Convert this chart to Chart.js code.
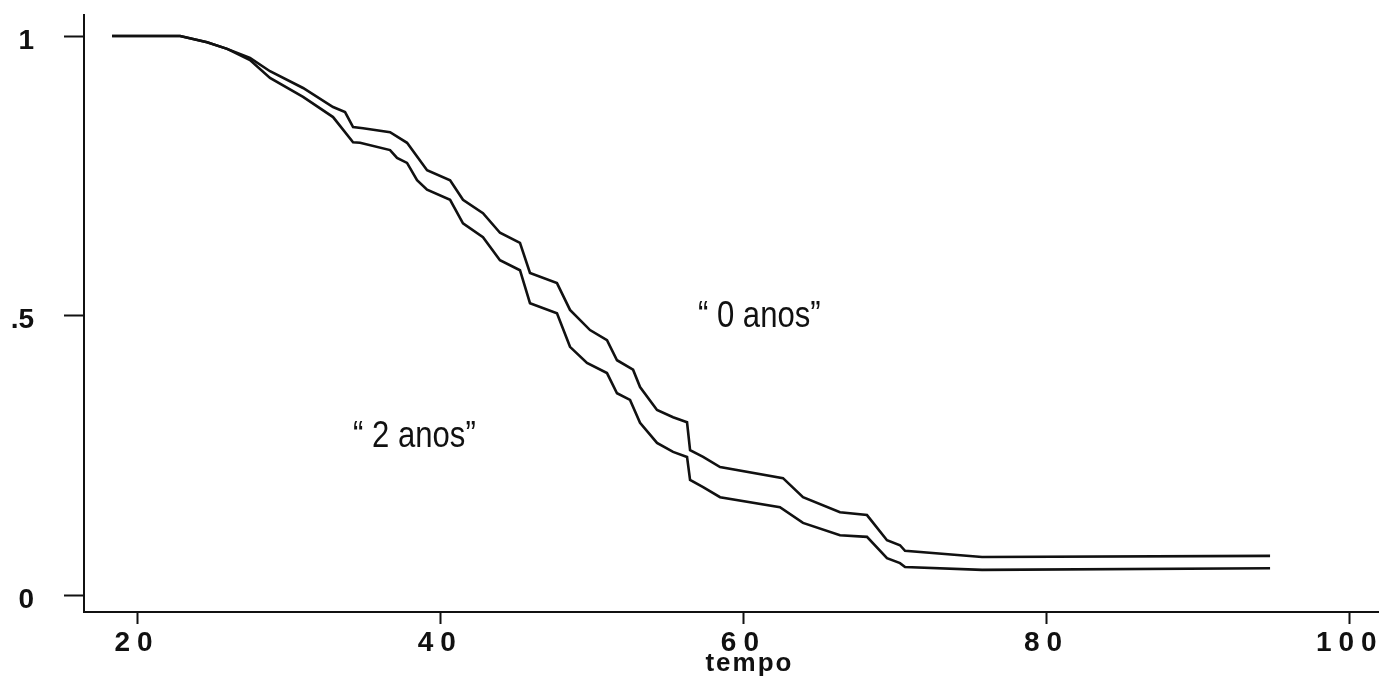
<!DOCTYPE html>
<html>
<head>
<meta charset="utf-8">
<script src="https://cdn.jsdelivr.net/npm/chart.js@4"></script>
<style>
  html, body { margin: 0; padding: 0; background: #fff; }
  canvas { display: block; }
</style>
</head>
<body>
<canvas id="myChart" width="1384" height="681"></canvas>
<script>
// survival curve "0 anos"
const tempo0 = [18.35, 22.84, 24.62, 25.94, 27.45, 28.77, 30.95, 32.93, 33.72, 34.25, 34.91, 36.69, 37.81, 39.13, 40.65, 41.50, 42.82, 43.94, 45.26, 45.92, 47.70, 48.56, 49.88, 51.00, 51.66, 52.72, 53.18, 54.30, 55.36, 56.28, 56.48, 57.34, 58.46, 62.61, 63.93, 66.37, 68.15, 69.47, 70.33, 70.66, 75.74, 94.74];
const surv0 = [1.0, 1.0, 0.989, 0.977, 0.961, 0.937, 0.907, 0.873, 0.864, 0.837, 0.835, 0.828, 0.809, 0.760, 0.742, 0.707, 0.683, 0.648, 0.630, 0.576, 0.558, 0.510, 0.474, 0.456, 0.420, 0.403, 0.372, 0.331, 0.318, 0.309, 0.259, 0.247, 0.229, 0.209, 0.175, 0.148, 0.143, 0.098, 0.089, 0.079, 0.068, 0.070];

// survival curve "2 anos"
const tempo2 = [18.35, 22.84, 24.62, 25.94, 27.45, 28.77, 30.95, 32.93, 34.25, 34.71, 36.69, 37.15, 37.81, 38.47, 39.13, 40.65, 41.50, 42.82, 43.94, 45.26, 45.92, 47.70, 48.56, 49.68, 51.00, 51.66, 52.52, 53.18, 54.30, 55.36, 56.28, 56.48, 57.34, 58.46, 62.41, 63.93, 66.37, 68.15, 69.47, 70.33, 70.66, 75.74, 94.74];
const surv2 = [1.0, 1.0, 0.989, 0.977, 0.957, 0.925, 0.891, 0.855, 0.810, 0.809, 0.796, 0.782, 0.773, 0.742, 0.725, 0.707, 0.665, 0.640, 0.599, 0.581, 0.522, 0.504, 0.444, 0.415, 0.397, 0.361, 0.349, 0.308, 0.272, 0.256, 0.247, 0.206, 0.193, 0.175, 0.157, 0.129, 0.107, 0.104, 0.066, 0.057, 0.050, 0.045, 0.048];

const xTicks = [20, 40, 60, 80, 100];
const yTicks = [0, 0.5, 1];
const yTickLabels = ['0', '.5', '1'];
const seriesLabels = ['\u201C 0 anos\u201D', '\u201C 2 anos\u201D'];
const xTitle = 'tempo';

const toPoints = (xs, ys) => xs.map((x, i) => ({ x: x, y: ys[i] }));

// x tick labels are letter-spaced; their layer (ticks.z = 1) is drawn after the datasets
const extras = {
  id: 'extras',
  afterDatasetsDraw(chart) {
    chart.ctx.letterSpacing = '7px';
  },
  afterDraw(chart) {
    const ctx = chart.ctx;
    const xs = chart.scales.x;
    const ys = chart.scales.y;
    ctx.save();
    ctx.fillStyle = '#111';
    ctx.textBaseline = 'alphabetic';

    // axis title under the ticks
    ctx.letterSpacing = '2px';
    ctx.font = 'bold 26px "Liberation Sans", Arial, sans-serif';
    ctx.textAlign = 'center';
    ctx.fillText(xTitle, xs.getPixelForValue(60) + 6, 671);

    // curve labels, condensed like the original type
    ctx.letterSpacing = '0px';
    ctx.font = '37px "Liberation Sans", Arial, sans-serif';
    ctx.textAlign = 'left';
    const put = (text, x, y) => {
      ctx.save();
      ctx.translate(xs.getPixelForValue(x), ys.getPixelForValue(y));
      ctx.scale(0.84, 1);
      ctx.fillText(text, 0, 0);
      ctx.restore();
    };
    put(seriesLabels[0], 57.0, 0.479);
    put(seriesLabels[1], 34.25, 0.265);
    ctx.restore();
    ctx.letterSpacing = '0px';
  }
};

const ctx = document.getElementById('myChart').getContext('2d');

const chart = new Chart(ctx, {
  type: 'line',
  data: {
    datasets: [{
      label: seriesLabels[0],
      data: toPoints(tempo0, surv0),
      borderColor: '#111',
      borderWidth: 2.6,
      pointRadius: 0,
      tension: 0
    }, {
      label: seriesLabels[1],
      data: toPoints(tempo2, surv2),
      borderColor: '#111',
      borderWidth: 2.6,
      pointRadius: 0,
      tension: 0
    }]
  },
  options: {
    responsive: false,
    animation: false,
    layout: { padding: { top: 15, right: 6, left: 0, bottom: 0 } },
    plugins: {
      legend: { display: false },
      tooltip: { enabled: false }
    },
    scales: {
      x: {
        type: 'linear',
        min: 16.5,
        max: 101.86,
        afterFit: (scale) => {
          scale.height = 69;
          scale.paddingLeft = 0;
          scale.paddingRight = 0;
        },
        afterBuildTicks: (scale) => { scale.ticks = xTicks.map(v => ({ value: v })); },
        border: { display: true, color: '#111', width: 2 },
        grid: { drawOnChartArea: false, drawTicks: true, tickLength: 12, tickWidth: 2, tickColor: '#111' },
        ticks: {
          z: 1,
          color: '#111',
          padding: 2,
          maxRotation: 0,
          autoSkip: false,
          font: { family: '"Liberation Sans", Arial, sans-serif', size: 28, weight: 'bold' },
          callback: (v) => String(v)
        }
      },
      y: {
        min: -0.0304,
        max: 1.0376,
        afterFit: (scale) => {
          scale.width = 84;
          scale.paddingTop = 0;
          scale.paddingBottom = 0;
        },
        afterBuildTicks: (scale) => { scale.ticks = yTicks.map(v => ({ value: v })); },
        border: { display: true, color: '#111', width: 2 },
        grid: { drawOnChartArea: false, drawTicks: true, tickLength: 20, tickWidth: 2, tickColor: '#111' },
        ticks: {
          color: '#111',
          padding: 30,
          labelOffset: 5,
          font: { family: '"Liberation Sans", Arial, sans-serif', size: 28, weight: 'bold' },
          callback: (v) => yTickLabels[yTicks.indexOf(v)]
        }
      }
    }
  },
  plugins: [extras]
});
</script>
</body>
</html>
